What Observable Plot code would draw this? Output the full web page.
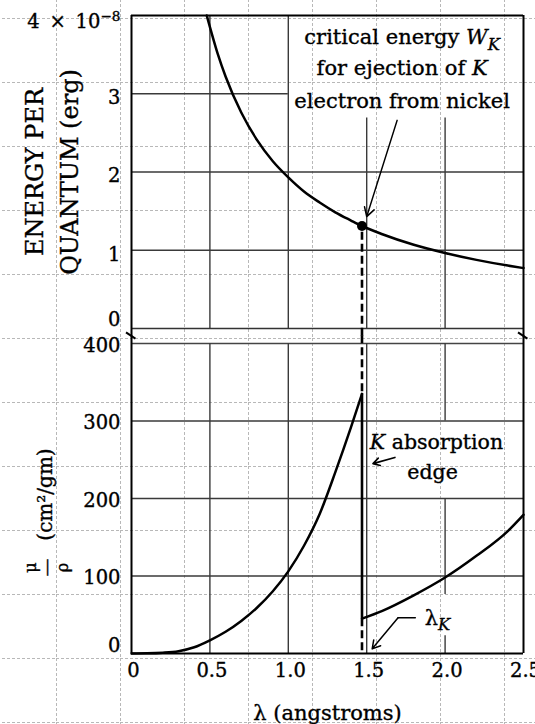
<!DOCTYPE html>
<html><head><meta charset="utf-8">
<script src="https://cdn.jsdelivr.net/npm/d3@7"></script>
<script src="https://cdn.jsdelivr.net/npm/@observablehq/plot@0.6"></script>
<style>
html,body{margin:0;padding:0;}
body{width:535px;height:724px;overflow:hidden;background-color:#fff;
background-image:url("data:image/svg+xml,%3Csvg xmlns='http://www.w3.org/2000/svg' width='64' height='64'%3E%3Cpath d='M0.5 0V64M0 0.5H64' stroke='%23b8b8b8' stroke-width='1' stroke-dasharray='3 2' fill='none'/%3E%3C/svg%3E");
background-position:56px 18px;}
#chart svg{display:block;}
#chart text{stroke:black;stroke-width:0.35px;}
</style></head><body><div id="chart"></div>
<script>
// ---- data ----
const energyLambda = [0.48,0.55,0.6,0.7,0.8,0.9,1.0,1.1,1.2,1.3,1.4,1.47,1.6,1.8,2.0,2.2,2.4,2.5];
const energyValues = [4.0,3.51,3.22,2.76,2.41,2.14,1.93,1.75,1.61,1.485,1.38,1.31,1.205,1.07,0.965,0.877,0.804,0.772]; // ×10^-8 erg
const absLambdaBelowEdge = [0,0.1,0.2,0.3,0.4,0.5,0.6,0.7,0.8,0.9,1.0,1.1,1.2,1.3,1.4,1.47];
const absBelowEdge = [0,0.2,1,3,8,17,28,42,59,80,106,139,180,234,292,335];
const absLambdaAboveEdge = [1.47,1.6,1.8,2.0,2.2,2.4,2.5];
const absAboveEdge = [45,55,75,98,126,158,179];
const edgeLambda = 1.47;
const edgeEnergy = 1.31;
const energyTicks = [0,1,2,3,4];
const energyTickLabels = ["0","1","2","3","4 × 10\u207B\u2078"];
const absTicks = [0,100,200,300,400];
const lambdaTicks = [0,0.5,1.0,1.5,2.0,2.5];
const lambdaTickLabels = ["0","0.5","1.0","1.5","2.0","2.5"];
const topNote = ["critical energy WK","for ejection of K","electron from nickel"];
const edgeNote = ["K absorption","edge"];

// ---- build tables ----
const energyData = energyLambda.map((x,i)=>({x, y: energyValues[i]}));
const absBelow = absLambdaBelowEdge.map((x,i)=>({x, y: absBelowEdge[i]}));
const absAbove = absLambdaAboveEdge.map((x,i)=>({x, y: absAboveEdge[i]}));

const FONT = "'DejaVu Serif', serif";
const svgStyle = {fontFamily: FONT, fontSize: "19.5px", background: "transparent", overflow: "visible", color: "black"};
const GRID = "#3a3a3a";

// ---- top panel ----
const topPlot = Plot.plot({
  width: 535, height: 335,
  marginLeft: 131, marginRight: 12, marginTop: 15, marginBottom: 7,
  x: {domain: [0, 2.5], axis: null},
  y: {domain: [0, 4], axis: null},
  style: svgStyle,
  marks: [
    Plot.ruleY([1,2], {stroke: GRID, strokeWidth: 1.4}),
    Plot.ruleY([{y:3, x1:0, x2:1}], {y:"y", x1:"x1", x2:"x2", stroke: GRID, strokeWidth: 1.4}),
    Plot.ruleX([{x:0.5,y1:0,y2:4},{x:1,y1:0,y2:4},{x:1.5,y1:0,y2:2.69},{x:2,y1:0,y2:2.69}],
      {x:"x", y1:"y1", y2:"y2", stroke: GRID, strokeWidth: 1.4}),
    Plot.ruleY([0], {stroke: "#333", strokeWidth: 1.6}),
    Plot.ruleY([4], {stroke: "black", strokeWidth: 2}),
    Plot.ruleX([{x:0,y1:-0.1,y2:4},{x:2.5,y1:-0.1,y2:4}], {x:"x", y1:"y1", y2:"y2", stroke:"black", strokeWidth: 2}),
    Plot.link([{x1:-0.035,y1:-0.05,x2:0.025,y2:-0.13},{x1:2.465,y1:-0.05,x2:2.525,y2:-0.13}],
      {x1:"x1", y1:"y1", x2:"x2", y2:"y2", stroke:"black", strokeWidth: 2}),
    Plot.ruleX([{x: edgeLambda, y1: -0.1, y2: edgeEnergy}], {x:"x", y1:"y1", y2:"y2", stroke:"black", strokeWidth: 2.6, strokeDasharray: "8,4"}),
    Plot.line(energyData, {x:"x", y:"y", curve:"monotone-x", stroke:"black", strokeWidth: 2.5}),
    Plot.dot([{x: edgeLambda, y: edgeEnergy}], {x:"x", y:"y", r: 5, fill: "black"}),
    Plot.arrow([{x1:1.694, y1:2.66, x2:1.50, y2:1.43}], {x1:"x1", y1:"y1", x2:"x2", y2:"y2", stroke:"black", strokeWidth: 1.5, headLength: 10}),
    Plot.text(topNote.map((t,i)=>({t, y: [3.72,3.32,2.91][i]})), {x: ()=>1.726, y:"y", text:"t", fontSize: 21, fill:"black"}),
    Plot.axisY({ticks: [1,2,3], tickSize: 0, tickPadding: 11, dy: 4, tickFormat: d => energyTickLabels[energyTicks.indexOf(d)], label: null}),
    Plot.axisY({ticks: [4], tickSize: 0, tickPadding: 11, dy: 6, tickFormat: d => energyTickLabels[energyTicks.indexOf(d)], label: null}),
    Plot.axisY({ticks: [0], tickSize: 0, tickPadding: 11, dy: -9, tickFormat: d => energyTickLabels[energyTicks.indexOf(d)], label: null}),
    Plot.text(["ENERGY PER\nQUANTUM (erg)"], {text: d => d, frameAnchor: "left", textAnchor: "middle", lineAnchor: "middle", dx: -82, rotate: -90, fontSize: 24, lineHeight: 1.45, fill: "black"})
  ]
});

// ---- bottom panel ----
const bottomPlot = Plot.plot({
  width: 535, height: 389,
  marginLeft: 131, marginRight: 12, marginTop: 8, marginBottom: 71,
  x: {domain: [0, 2.5]},
  y: {domain: [0, 400]},
  style: svgStyle,
  marks: [
    Plot.ruleY([100,200,300], {stroke: GRID, strokeWidth: 1.4}),
    Plot.ruleY([400], {stroke: "#444", strokeWidth: 1.6}),
    Plot.ruleX([{x:0.5,y1:0,y2:400},{x:1,y1:0,y2:400},{x:1.5,y1:0,y2:400},
                {x:2,y1:0,y2:23},{x:2,y1:76,y2:200},{x:2,y1:300,y2:400}],
      {x:"x", y1:"y1", y2:"y2", stroke: GRID, strokeWidth: 1.4}),
    Plot.ruleY([0], {stroke: "black", strokeWidth: 2.2}),
    Plot.ruleX([{x:0,y1:0,y2:410},{x:2.5,y1:0,y2:410}], {x:"x", y1:"y1", y2:"y2", stroke:"black", strokeWidth: 2}),
    Plot.ruleX([{x: edgeLambda, y1: absAboveEdge[0], y2: 0},{x: edgeLambda, y1: 410, y2: absBelowEdge[absBelowEdge.length-1]}],
      {x:"x", y1:"y1", y2:"y2", stroke:"black", strokeWidth: 2.6, strokeDasharray: "8,4"}),
    Plot.ruleX([{x: edgeLambda, y1: absAboveEdge[0], y2: absBelowEdge[absBelowEdge.length-1]}],
      {x:"x", y1:"y1", y2:"y2", stroke:"black", strokeWidth: 2.6}),
    Plot.line(absBelow, {x:"x", y:"y", curve:"monotone-x", stroke:"black", strokeWidth: 2.5}),
    Plot.line(absAbove, {x:"x", y:"y", curve:"monotone-x", stroke:"black", strokeWidth: 2.5}),
    Plot.text(edgeNote.map((t,i)=>({t, x:[1.52,1.92][i], y:[272,234][i], a:["start","middle"][i]})),
      {x:"x", y:"y", text:"t", textAnchor: "start", fontSize: 20.5, fill:"black", filter: d => d.a === "start"}),
    Plot.text(edgeNote.map((t,i)=>({t, x:[1.52,1.92][i], y:[272,234][i], a:["start","middle"][i]})),
      {x:"x", y:"y", text:"t", textAnchor: "middle", fontSize: 20.5, fill:"black", filter: d => d.a === "middle"}),
    Plot.arrow([{x1:1.68, y1:253, x2:1.54, y2:245}], {x1:"x1", y1:"y1", x2:"x2", y2:"y2", stroke:"black", strokeWidth: 1.6, headLength: 8}),
    Plot.line([{x:1.81,y:46},{x:1.70,y:46}], {x:"x", y:"y", stroke:"black", strokeWidth: 1.5}),
    Plot.arrow([{x1:1.70, y1:46, x2:1.535, y2:6}], {x1:"x1", y1:"y1", x2:"x2", y2:"y2", stroke:"black", strokeWidth: 1.5, headLength: 9}),
    Plot.text(["λK"], {text: d => d, x: () => 1.87, y: () => 46, textAnchor: "start", fontSize: 21, fill: "black"}),
    Plot.axisY({ticks: [100,200,300,400], tickSize: 0, tickPadding: 11, dy: 2, label: null}),
    Plot.axisY({ticks: [0], tickSize: 0, tickPadding: 11, dy: -8, label: null}),
    Plot.axisX({ticks: lambdaTicks, tickSize: 0, tickPadding: 10, dx: 2, tickFormat: d => lambdaTickLabels[lambdaTicks.indexOf(d)], label: null}),
    Plot.text(["λ (angstroms)"], {text: d => d, frameAnchor: "bottom", lineAnchor: "middle", dy: 60, fontSize: 21, fill: "black"}),
    Plot.text(["(cm²/gm)"], {text: d => d, frameAnchor: "left", textAnchor: "middle", lineAnchor: "middle", dx: -86, dy: -4, rotate: -90, fontSize: 20, fill: "black"}),
    Plot.text(["μ\n\u2015\nρ"], {text: d => d, frameAnchor: "left", textAnchor: "middle", lineAnchor: "middle", dx: -85, dy: 69, rotate: -90, fontSize: 16, lineHeight: 1.0, fill: "black"})
  ]
});

const chart = document.getElementById("chart");
chart.appendChild(topPlot);
chart.appendChild(bottomPlot);

// rich text: italics, subscripts and superscripts in labels
const NS = "http://www.w3.org/2000/svg";
const rich = {
  "critical energy WK": [["critical energy "],["W","i"],["K","i","sub"]],
  "for ejection of K": [["for ejection of "],["K","i"]],
  "K absorption": [["K","i"],[" absorption"]],
  "λK": [["λ"],["K","i","sub"]],
  "4 × 10\u207B\u2078": [["4\u2002×\u200210"],["\u22128","","sup"]]
};
document.querySelectorAll("#chart text").forEach(el => {
  const parts = rich[el.textContent];
  if (!parts) return;
  el.textContent = "";
  parts.forEach(([s, it, sub]) => {
    const ts = document.createElementNS(NS, "tspan");
    ts.textContent = s;
    if (it) ts.setAttribute("font-style", "italic");
    if (sub === "sub") { ts.setAttribute("dy", "0.35em"); ts.setAttribute("font-size", "0.78em"); }
    if (sub === "sup") { ts.setAttribute("dy", "-0.5em"); ts.setAttribute("font-size", "0.7em"); }
    el.appendChild(ts);
  });
});
</script>
</body></html>
